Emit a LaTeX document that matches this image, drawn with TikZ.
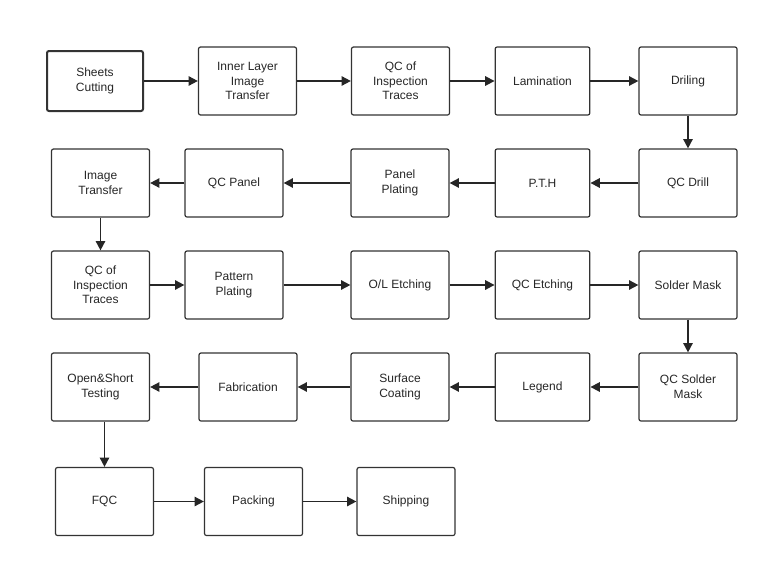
\documentclass[tikz,border=0pt]{standalone}
\usepackage{fontspec}
\setmainfont{Liberation Sans}
\usetikzlibrary{arrows.meta}
\begin{document}
\begin{tikzpicture}[x=0.75pt,y=-0.75pt,
 box/.style={draw=black!80,line width=0.9pt,rounded corners=1.5pt,minimum width=73.5pt,minimum height=51pt,align=center,font=\fontsize{9}{11}\selectfont,inner sep=1pt,text=black!85},
 first/.style={box,line width=1.5pt,minimum width=72pt,minimum height=45pt},
 arr/.style={-{Triangle[length=7pt,width=7pt]},line width=1.3pt,draw=black!85}]
\useasboundingbox (0,0) rectangle (768,568);
\node[first] (a1) at (95,81) {Sheets\\Cutting};
\node[box] (a2) at (247.5,81) {Inner Layer\\Image\\Transfer};
\node[box] (a3) at (400.5,81) {QC of\\Inspection\\Traces};
\node[box,minimum width=71pt] (a4) at (542.5,81) {Lamination};
\node[box] (a5) at (688,81) {Driling};
\node[box] (b1) at (100.5,183) {Image\\Transfer};
\node[box] (b2) at (234,183) {QC Panel};
\node[box] (b3) at (400,183) {Panel\\Plating};
\node[box,minimum width=71pt] (b4) at (542.5,183) {P.T.H};
\node[box] (b5) at (688,183) {QC Drill};
\node[box] (c1) at (100.5,285) {QC of\\Inspection\\Traces};
\node[box] (c2) at (234,285) {Pattern\\Plating};
\node[box] (c3) at (400,285) {O/L Etching};
\node[box,minimum width=71pt] (c4) at (542.5,285) {QC Etching};
\node[box] (c5) at (688,285) {Solder Mask};
\node[box] (d1) at (100.5,387) {Open\&Short\\Testing};
\node[box] (d2) at (248,387) {Fabrication};
\node[box] (d3) at (400,387) {Surface\\Coating};
\node[box,minimum width=71pt] (d4) at (542.5,387) {Legend};
\node[box] (d5) at (688,387) {QC Solder\\Mask};
\node[box] (e1) at (104.5,501.5) {FQC};
\node[box] (e2) at (253.5,501.5) {Packing};
\node[box] (e3) at (406,501.5) {Shipping};
\draw[arr] (a1)--(a2); \draw[arr] (a2)--(a3); \draw[arr] (a3)--(a4); \draw[arr] (a4)--(a5);
\draw[arr] (a5)--(b5);
\draw[arr] (b5)--(b4); \draw[arr] (b4)--(b3); \draw[arr] (b3)--(b2); \draw[arr] (b2)--(b1);
\draw[arr] (b1)--(c1);
\draw[arr] (c1)--(c2); \draw[arr] (c2)--(c3); \draw[arr] (c3)--(c4); \draw[arr] (c4)--(c5);
\draw[arr] (c5)--(d5);
\draw[arr] (d5)--(d4); \draw[arr] (d4)--(d3); \draw[arr] (d3)--(d2); \draw[arr] (d2)--(d1);
\draw[arr] (d1.south -| 104.5,0) -- (e1.north);
\draw[arr] (e1)--(e2); \draw[arr] (e2)--(e3);
\end{tikzpicture}
\end{document}
